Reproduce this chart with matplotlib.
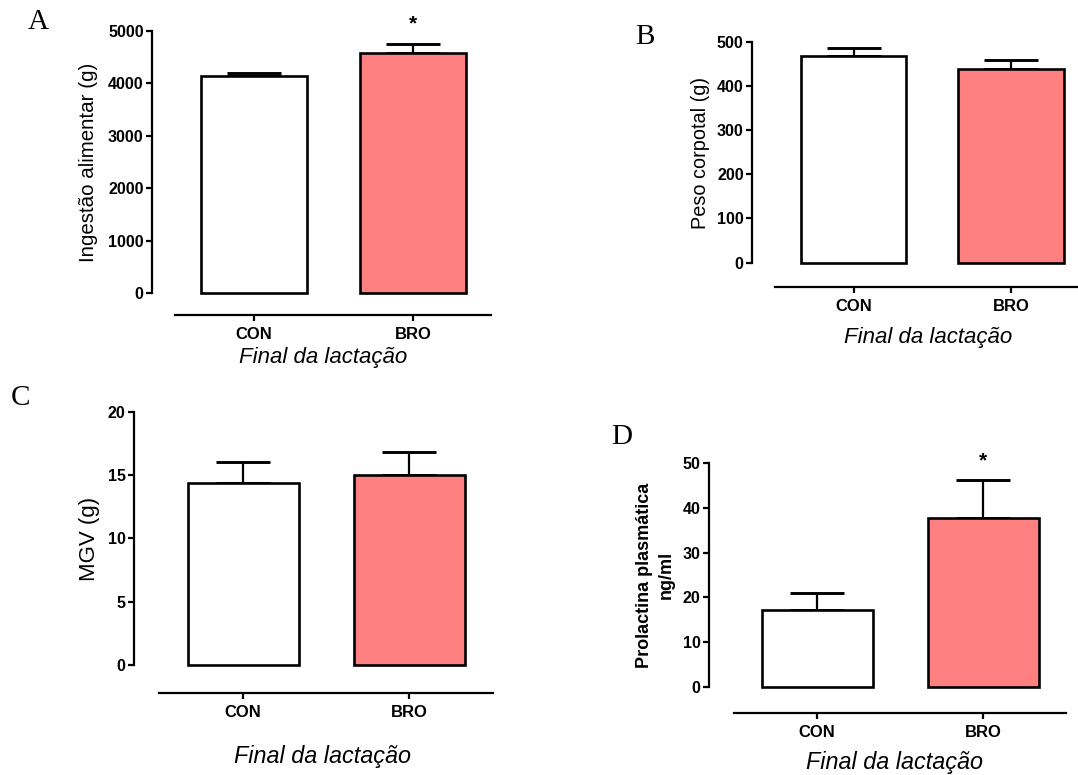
import matplotlib
matplotlib.use("Agg")
import matplotlib.pyplot as plt

plt.rcParams['font.family'] = ['Liberation Sans', 'DejaVu Sans']

groups = ["CON", "BRO"]
xlabel_text = "Final da lactação"

# A - food intake
ingestao_mean = [4150, 4580]
ingestao_sem = [40, 180]
# B - body weight
peso_mean = [467, 438]
peso_sem = [19, 20]
# C - MGV
mgv_mean = [14.4, 15.0]
mgv_sem = [1.65, 1.8]
# D - plasma prolactin
prl_mean = [17.3, 37.8]
prl_sem = [3.8, 8.3]

W, H = 1078, 775
fig = plt.figure(figsize=(W / 100, H / 100), dpi=100)
fill = ["white", "#ff8080"]
PT = 72 / 100  # points per pixel


def panel(letter, means, sems, ymax, ystep, ylabel, stars, geo, ylab_size, xlab_size,
          ylab_bold=False):
    # geo: pixel layout (left, right, ytop, ybottom, xc0, xc1, barw, xaxis_y, xaxis_start, letter xy, ylabel xy, xlabel xy)
    left, right, ytop, ybot, xc0, xc1, barw, xay, xas, lxy, ylxy, xlxy = geo
    unit = xc1 - xc0
    ax = fig.add_axes([left / W, 1 - ybot / H, (right - left) / W, (ybot - ytop) / H])
    ax.set_xlim((left - xc0) / unit, (right - xc0) / unit)
    ax.set_ylim(0, ymax)
    x = [0, 1]
    ax.bar(x, means, width=barw / unit, color=fill, edgecolor="black", linewidth=1.9,
           clip_on=False, zorder=3)
    for xi, m, s in zip(x, means, sems):
        ax.errorbar(xi, m, yerr=[[0], [s]], fmt="none", ecolor="black", elinewidth=1.6,
                    capsize=19.5, capthick=2.1, clip_on=False, zorder=2)
    for xi, st in zip(x, stars):
        if st:
            ax.annotate(st, xy=(xi, means[xi] + sems[xi]), xytext=(0, 7),
                        textcoords="offset points", ha="center", va="bottom",
                        fontsize=15, fontweight="bold")
    for sp in ["top", "right"]:
        ax.spines[sp].set_visible(False)
    ax.spines["left"].set_linewidth(1.6)
    ax.spines["bottom"].set_linewidth(1.6)
    ax.spines["bottom"].set_position(("outward", (xay - ybot) * PT))
    ax.spines["bottom"].set_bounds((xas - xc0) / unit, (right - xc0) / unit)
    ax.set_yticks(range(0, ymax + 1, ystep))
    ax.set_xticks(x)
    ax.set_xticklabels(groups)
    ax.tick_params(axis="both", width=1.6, length=4.5, labelsize=11.5, pad=1.5)
    ax.tick_params(axis="x", pad=4, labelsize=12)
    for t in ax.get_xticklabels() + ax.get_yticklabels():
        t.set_fontweight("bold")
    fig.text(lxy[0] / W, 1 - lxy[1] / H, letter, family="Liberation Serif",
             fontsize=21, ha="center", va="center")
    fig.text(ylxy[0] / W, 1 - ylxy[1] / H, ylabel, rotation=90, ha="center", va="center",
             fontsize=ylab_size, fontweight="bold" if ylab_bold else "normal",
             linespacing=1.35)
    fig.text(xlxy[0] / W, 1 - xlxy[1] / H, xlabel_text, style="italic", fontsize=xlab_size,
             ha="center", va="center")
    return ax


panel("A", ingestao_mean, ingestao_sem, 5000, 1000, "Ingestão alimentar (g)", ["", "*"],
      (152, 491, 31, 293, 254, 413, 106, 315, 175, (38, 22), (88, 162), (323, 358)),
      14.8, 16)
panel("B", peso_mean, peso_sem, 500, 100, "Peso corpotal (g)", ["", ""],
      (752, 1077, 41.7, 262.7, 854, 1011, 105, 287.3, 775, (645, 37), (700, 153), (928, 337)),
      14.3, 16)
panel("C", mgv_mean, mgv_sem, 20, 5, "MGV (g)", ["", ""],
      (134, 493, 411.7, 665, 243, 409, 111, 693.3, 159, (20, 398), (90, 539), (322, 756)),
      16, 16.8)
panel("D", prl_mean, prl_sem, 50, 10, "Prolactina plasmática\nng/ml", ["", "*"],
      (709, 1066, 462.7, 687.3, 817, 983, 111, 712.7, 734, (622, 437), (655, 575), (895, 763)),
      13, 16.8, ylab_bold=True)

fig.savefig("out.png", dpi=100)
